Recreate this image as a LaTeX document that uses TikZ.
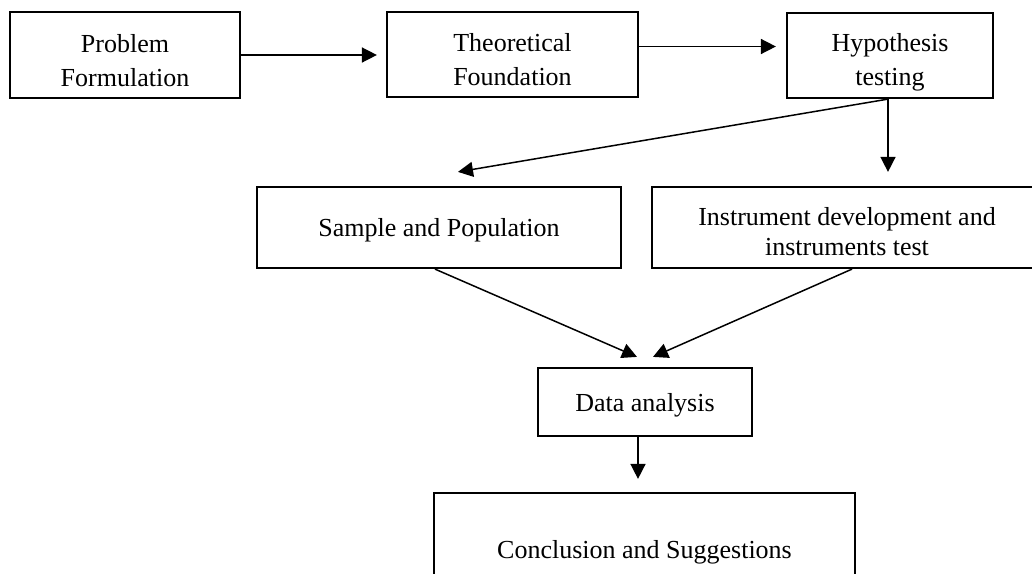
\documentclass[tikz,border=0pt]{standalone}
\usepackage{fontspec}
\setmainfont{Liberation Serif}
\usetikzlibrary{arrows.meta}

\begin{document}
\begin{tikzpicture}[x=1pt, y=-1pt,
    box/.style={draw, line width=2.2pt, align=center, inner sep=0pt,
        font=\fontsize{26}{34}\selectfont},
    one/.style={text depth=0pt},
    arr/.style={line width=1.5pt, -{Triangle[length=15pt,width=15pt]}}]
    \useasboundingbox (0,0) rectangle (1032,573);

    % top row
    \node[box, minimum width=230pt, minimum height=86pt] (prob) at (125,55) {\rule{0pt}{29pt}Problem\\Formulation};
    \node[box, minimum width=251pt, minimum height=85pt] (theo) at (512.5,54.5) {\rule{0pt}{29pt}Theoretical\\Foundation};
    \node[box, minimum width=206pt, minimum height=85pt] (hypo) at (890,55.5) {\rule{0pt}{31pt}Hypothesis\\testing};

    % middle row
    \node[box, one, minimum width=364pt, minimum height=81pt] (sample) at (439,227.5) {Sample and Population};
    \node[box, minimum width=390pt, minimum height=81pt,
        font=\fontsize{26}{30}\selectfont] (instr) at (847,227.5) {\rule{0pt}{26pt}Instrument development and\\instruments test};

    % bottom
    \node[box, one, minimum width=214pt, minimum height=68pt] (data) at (645,402) {Data analysis};
    \node[box, one, minimum width=421pt, minimum height=112pt] (concl) at (644.5,549) {Conclusion and Suggestions};

    \coordinate (sTip) at ([xshift=19pt,yshift=14pt]sample.north);
    \coordinate (dTipL) at ([xshift=-8pt,yshift=10pt]data.north);
    \coordinate (dTipR) at ([xshift=8pt,yshift=10pt]data.north);

    % arrows
    \draw[arr, shorten >=9pt] (prob.east) -- (prob.east -| theo.west);
    \draw[arr, shorten >=10pt] ([yshift=8pt]theo.east) -- ([yshift=8pt]theo.east -| hypo.west);
    \draw[arr] ([xshift=-2pt]hypo.south) -- (sTip);
    \draw[arr, shorten >=14pt] ([xshift=-2pt]hypo.south) -- ([xshift=-2pt]hypo.south |- instr.north);
    \draw[arr] ([xshift=-4pt]sample.south) -- (dTipL);
    \draw[arr] ([xshift=5pt]instr.south) -- (dTipR);
    \draw[arr, shorten >=13pt] ([xshift=-7pt]data.south) -- ([xshift=-7pt]data.south |- concl.north);
\end{tikzpicture}
\end{document}
